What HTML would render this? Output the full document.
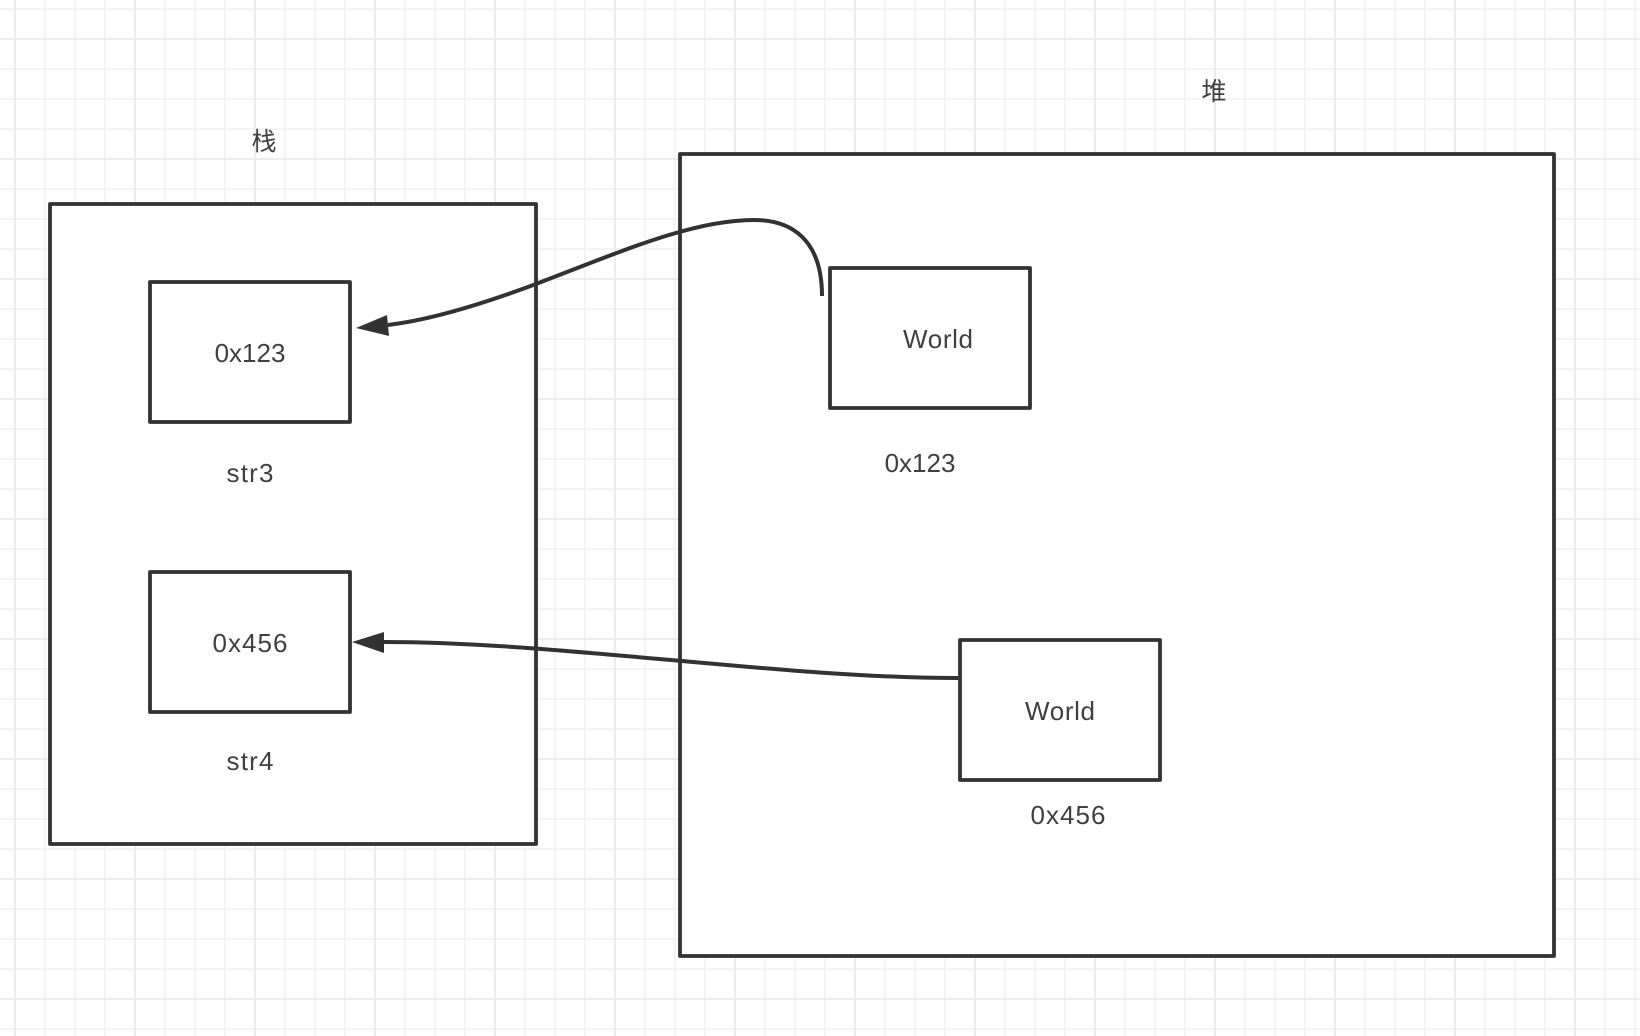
<!DOCTYPE html>
<html lang="zh">
<head>
<meta charset="utf-8">
<title>栈 堆</title>
<style>
html,body{margin:0;padding:0;background:#fff;width:1640px;height:1036px;overflow:hidden}
svg{display:block}
text{font-family:"Liberation Sans","Noto Sans CJK SC",sans-serif;font-size:26px;fill:#404040;text-anchor:middle}
.b{fill:#fff;stroke:#323232;stroke-width:3.8;stroke-linejoin:round}
.c{fill:none;stroke:#323232;stroke-width:4}
</style>
</head>
<body>
<svg width="1640" height="1036" viewBox="0 0 1640 1036" xmlns="http://www.w3.org/2000/svg">
<defs>
<pattern id="g" width="120" height="120" patternUnits="userSpaceOnUse" patternTransform="translate(14 38)">
<rect x="30" width="2" height="120" fill="#f4f4f4"/>
<rect x="60" width="2" height="120" fill="#f4f4f4"/>
<rect x="90" width="2" height="120" fill="#f4f4f4"/>
<rect y="30" width="120" height="2" fill="#f4f4f4"/>
<rect y="60" width="120" height="2" fill="#f4f4f4"/>
<rect y="90" width="120" height="2" fill="#f4f4f4"/>
<rect x="0" width="2" height="120" fill="#ececec"/>
<rect y="0" width="120" height="2" fill="#ececec"/>
</pattern>
</defs>
<rect width="1640" height="1036" fill="#fff"/>
<rect width="1640" height="1036" fill="url(#g)"/>

<rect class="b" x="50" y="204" width="486" height="640"/>
<rect class="b" x="680" y="154" width="874" height="802"/>
<rect class="b" x="150" y="282" width="200" height="140"/>
<rect class="b" x="150" y="572" width="200" height="140"/>
<rect class="b" x="830" y="268" width="200" height="140"/>
<rect class="b" x="960" y="640" width="200" height="140"/>

<path class="c" d="M822 296 C822 240 792 220 754 220 C692 220 620 252 536 284 C480 305 430 320 388 325"/>
<polygon points="356,328 387,315 389,336" fill="#323232"/>
<path class="c" d="M958 678 C780 678 560 642 384 642"/>
<polygon points="352,642 384,632 384,653" fill="#323232"/>

<text x="264" y="150" style="font-size:25px">栈</text>
<text x="1214" y="100" style="font-size:25px">堆</text>
<text x="250" y="362">0x123</text>
<text x="250" y="482" textLength="47" lengthAdjust="spacing">str3</text>
<text x="250" y="652" textLength="75" lengthAdjust="spacing">0x456</text>
<text x="250" y="770" textLength="47" lengthAdjust="spacing">str4</text>
<text x="938" y="348" textLength="70" lengthAdjust="spacing">World</text>
<text x="920" y="472">0x123</text>
<text x="1060" y="720" textLength="70" lengthAdjust="spacing">World</text>
<text x="1068" y="824" textLength="75" lengthAdjust="spacing">0x456</text>
</svg>
</body>
</html>
